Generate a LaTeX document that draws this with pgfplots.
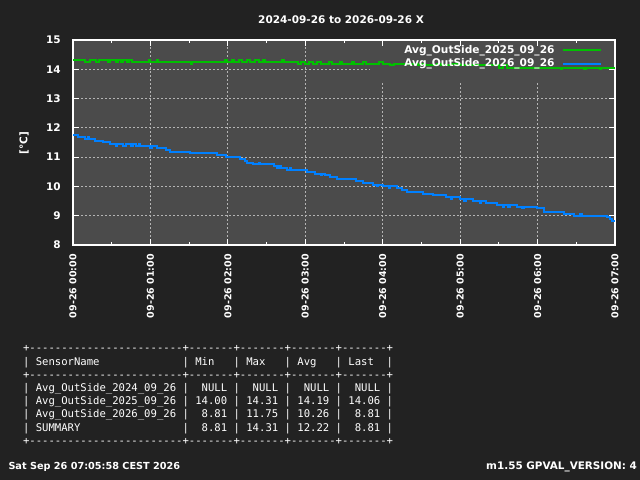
\documentclass[border=0pt]{standalone}
\usepackage{fontspec}
\setmainfont{DejaVu Sans}
\setmonofont{DejaVu Sans Mono}
\usepackage{pgfplots}
\pgfplotsset{compat=1.18}

\definecolor{bgdark}{HTML}{222222}
\definecolor{plotgray}{HTML}{4B4B4B}
\definecolor{ggreen}{HTML}{00C000}
\definecolor{bblue}{HTML}{0080FF}
\definecolor{gridgray}{HTML}{B4B4B4}

\newcommand{\fs}[1]{\fontsize{#1}{#1}\selectfont}

\begin{document}
\begin{tikzpicture}
\begin{axis}[
    set layers,
    clip=false,
    at={(73pt,235pt)}, anchor=south west,
    scale only axis, width=542pt, height=205pt,
    xmin=0, xmax=7, ymin=8, ymax=15,
    axis line style={white, line width=1.5pt},
    tick align=inside,
    major tick length=6pt, minor tick length=3pt,
    every tick/.style={white, line width=1pt},
    grid=major,
    major grid style={gridgray, line width=0.8pt, dash pattern=on 1.5pt off 2.5pt},
    xtick={0,...,7},
    xticklabels={09-26 00:00,09-26 01:00,09-26 02:00,09-26 03:00,09-26 04:00,09-26 05:00,09-26 06:00,09-26 07:00},
    minor x tick num=1,
    ytick={8,...,15},
    /pgf/number format/assume math mode=true,
    ticklabel style={text=white},
    yticklabel style={font=\bfseries\fs{10.5}, anchor=east, inner xsep=12pt, inner ysep=0pt},
    xticklabel style={font=\bfseries\fs{9.5}, rotate=90, anchor=east, inner xsep=9pt, inner ysep=0pt},
    legend style={at={(axis description cs:0.981,0.99)}, anchor=north east,
        draw=none, fill=none, text=white, font=\bfseries\fs{10.6},
        row sep=2pt, column sep=6pt, nodes={inner sep=1pt}},
    legend cell align=right,
    legend plot pos=right,
    legend image code/.code={\draw[#1] (0pt,0pt) -- (38pt,0pt);},
    no marks,
]
% page background, plot area, and the legend box that hides the grid
\begin{pgfonlayer}{axis background}
\fill[bgdark] (rel axis cs:-0.13469,-1.14634) rectangle (rel axis cs:1.04613,1.19512);
\fill[plotgray] (axis cs:0,8) rectangle (axis cs:7,15);
\end{pgfonlayer}
\begin{pgfonlayer}{axis grid}
\fill[plotgray] (axis cs:3.84,13.57) rectangle (axis cs:7,15);
\end{pgfonlayer}

\addplot[ggreen, line width=2pt, const plot] coordinates {
(0.00,14.31) (0.15,14.25) (0.22,14.31) (0.30,14.25) (0.33,14.31) (0.45,14.25)
(0.48,14.31) (0.55,14.25) (0.58,14.31) (0.62,14.25) (0.65,14.31) (0.70,14.25)
(0.72,14.31) (0.76,14.25) (0.98,14.31) (1.00,14.25) (1.08,14.31) (1.10,14.25)
(1.52,14.19) (1.54,14.25) (1.96,14.31) (1.99,14.25) (2.05,14.31) (2.08,14.25)
(2.15,14.31) (2.18,14.25) (2.25,14.31) (2.28,14.25) (2.35,14.31) (2.40,14.25)
(2.45,14.31) (2.48,14.25) (2.70,14.31) (2.72,14.25) (2.90,14.19) (2.95,14.25)
(3.00,14.19) (3.05,14.25) (3.10,14.19) (3.15,14.25) (3.20,14.19) (3.30,14.25)
(3.35,14.19) (3.45,14.25) (3.48,14.19) (3.60,14.25) (3.63,14.19) (3.75,14.25)
(3.78,14.19) (3.95,14.25) (4.00,14.19) (4.10,14.13) (4.15,14.19) (4.45,14.13)
(4.50,14.19) (4.55,14.13) (4.70,14.19) (4.75,14.13) (4.90,14.19) (5.00,14.13)
(5.50,14.06) (5.55,14.13) (5.60,14.06) (6.30,14.00) (6.32,14.06) (6.60,14.00)
(6.62,14.06) (6.80,14.00) (6.82,14.06) (7.00,14.06)
};
\addlegendentry{Avg\_OutSide\_2025\_09\_26}

\addplot[bblue, line width=2pt, const plot] coordinates {
(0.00,11.75) (0.07,11.69) (0.155,11.63) (0.20,11.69) (0.21,11.63) (0.28,11.56)
(0.39,11.50) (0.48,11.44) (0.55,11.38) (0.57,11.44) (0.65,11.38) (0.68,11.44)
(0.75,11.38) (0.77,11.44) (0.82,11.38) (0.85,11.44) (0.87,11.38) (1.00,11.31)
(1.02,11.38) (1.08,11.31) (1.20,11.25) (1.25,11.19) (1.51,11.13) (1.86,11.06)
(1.98,11.00) (2.16,10.94) (2.22,10.88) (2.25,10.81) (2.33,10.75) (2.40,10.81)
(2.42,10.75) (2.59,10.69) (2.63,10.63) (2.66,10.69) (2.68,10.63) (2.76,10.56)
(2.80,10.63) (2.82,10.56) (3.02,10.50) (3.12,10.44) (3.20,10.38) (3.22,10.44)
(3.25,10.38) (3.32,10.31) (3.41,10.25) (3.65,10.19) (3.75,10.13) (3.88,10.06)
(3.92,10.00) (3.94,10.06) (4.01,10.00) (4.08,9.94) (4.10,10.00) (4.18,9.94)
(4.25,9.88) (4.31,9.81) (4.52,9.75) (4.65,9.69) (4.82,9.63) (4.88,9.56)
(4.90,9.63) (5.00,9.56) (5.05,9.50) (5.07,9.56) (5.17,9.50) (5.25,9.44)
(5.27,9.50) (5.34,9.44) (5.47,9.38) (5.55,9.31) (5.57,9.38) (5.62,9.31)
(5.64,9.38) (5.73,9.31) (5.80,9.25) (5.82,9.31) (5.99,9.25) (6.08,9.13)
(6.34,9.06) (6.47,9.00) (6.55,9.06) (6.57,9.00) (6.90,8.94) (6.93,8.88)
(6.96,8.81) (7.00,8.81)
};
\addlegendentry{Avg\_OutSide\_2026\_09\_26}
\end{axis}

\node[text=white, font=\bfseries\fs{10.5}, anchor=base, inner sep=0pt] at (341pt,456.7pt) {2024-09-26 to 2026-09-26 X};
\node[text=white, font=\bfseries\fs{10.5}, rotate=90, inner sep=0pt] at (24pt,337pt) {[°C]};

\begin{scope}[every node/.style={text=white, font=\ttfamily\fs{10.6}, anchor=base west, inner sep=0pt}]
\node at (22.8pt,128pt)   {+------------------------+-------+-------+-------+-------+};
\node at (22.8pt,114.8pt) {|~SensorName~~~~~~~~~~~~~|~Min~~~|~Max~~~|~Avg~~~|~Last~~|};
\node at (22.8pt,101.6pt) {+------------------------+-------+-------+-------+-------+};
\node at (22.8pt,88.4pt)  {|~Avg\_OutSide\_2024\_09\_26~|~~NULL~|~~NULL~|~~NULL~|~~NULL~|};
\node at (22.8pt,75.2pt)  {|~Avg\_OutSide\_2025\_09\_26~|~14.00~|~14.31~|~14.19~|~14.06~|};
\node at (22.8pt,62pt)    {|~Avg\_OutSide\_2026\_09\_26~|~~8.81~|~11.75~|~10.26~|~~8.81~|};
\node at (22.8pt,48.8pt)  {|~SUMMARY~~~~~~~~~~~~~~~~|~~8.81~|~14.31~|~12.22~|~~8.81~|};
\node at (22.8pt,35.6pt)  {+------------------------+-------+-------+-------+-------+};
\end{scope}

\node[text=white, font=\bfseries\fs{9.7}, anchor=base west, inner sep=0pt] at (8.3pt,10pt) {Sat Sep 26 07:05:58 CEST 2026};
\node[text=white, font=\bfseries\fs{10.4}, anchor=base east, inner sep=0pt] at (637pt,10.5pt) {m1.55 GPVAL\_VERSION: 4};
\end{tikzpicture}
\end{document}
